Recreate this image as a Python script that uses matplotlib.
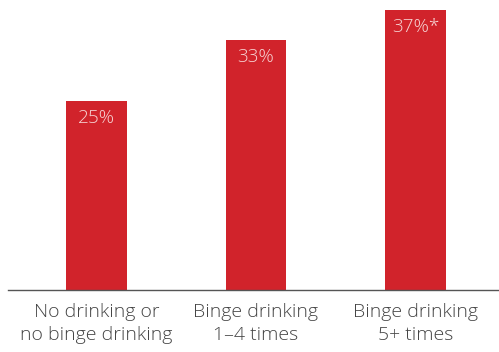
import matplotlib.pyplot as plt

categories = ["No drinking or\nno binge drinking", "Binge drinking\n1\u20134 times", "Binge drinking\n5+ times"]
values = [25, 33, 37]
value_labels = ["25%", "33%", "37%*"]

RED = "#d1232b"

plt.rcParams["font.family"] = ["Open Sans", "DejaVu Sans"]

fig = plt.figure(figsize=(4.99, 3.52), dpi=100)
ax = fig.add_axes([8 / 499, 1 - 289.5 / 352, 491 / 499, 289.5 / 352])

x = range(len(values))
bars = ax.bar(x, values, width=0.382, color=RED)

for b, lab in zip(bars, value_labels):
    ax.text(b.get_x() + b.get_width() / 2, b.get_height() - 1.1, lab,
            ha="center", va="top", color="#f6d3d3", fontsize=13.7, fontweight="light")

ax.set_xlim(-0.555, 2.524)
ax.set_ylim(0, 38.3)
ax.set_xticks(list(x))
ax.set_xticklabels(categories, fontsize=14, color="#444444", fontweight="light", linespacing=1.3)
ax.tick_params(axis="x", length=0, pad=10)
ax.set_yticks([])
for s in ["top", "right", "left"]:
    ax.spines[s].set_visible(False)
ax.spines["bottom"].set_color("#555555")
ax.spines["bottom"].set_linewidth(1)

fig.savefig("out.png", dpi=100)
